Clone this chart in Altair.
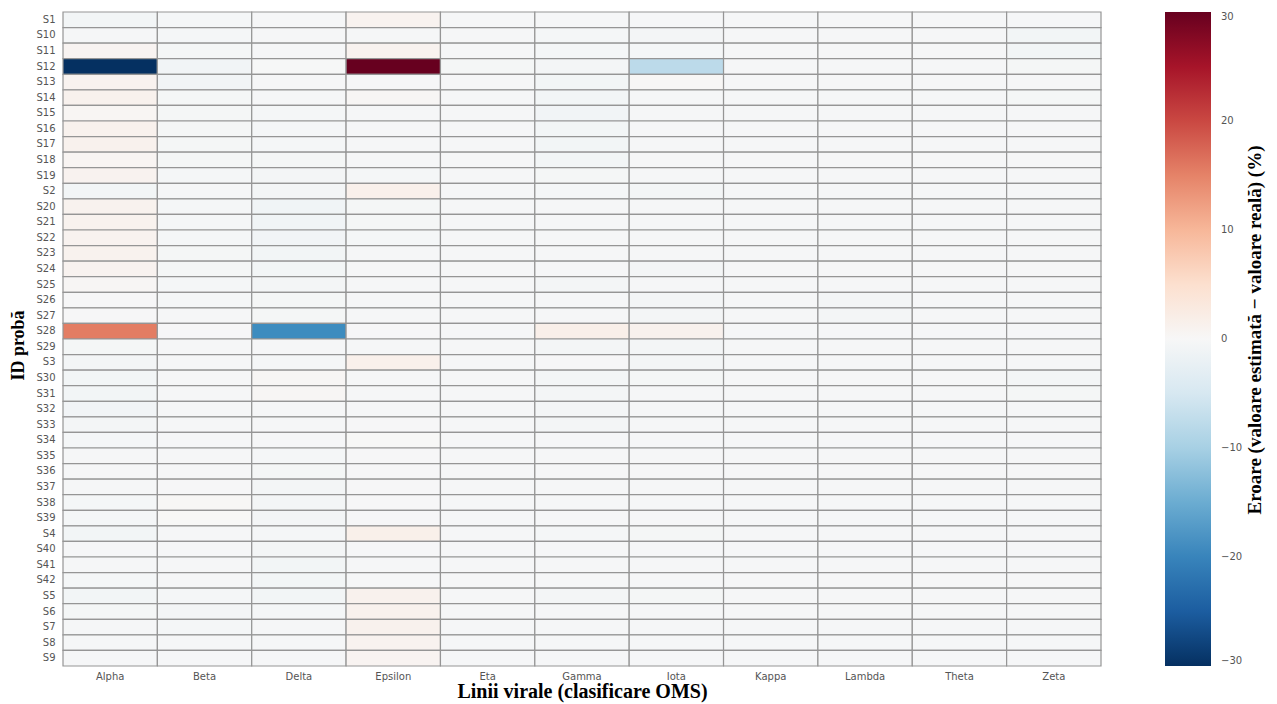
import altair as alt
import pandas as pd

# Sample IDs (string-sorted) and viral lineages
samples = ["S1", "S10", "S11", "S12", "S13", "S14", "S15", "S16", "S17", "S18", "S19",
           "S2", "S20", "S21", "S22", "S23", "S24", "S25", "S26", "S27", "S28", "S29",
           "S3", "S30", "S31", "S32", "S33", "S34", "S35", "S36", "S37", "S38", "S39",
           "S4", "S40", "S41", "S42", "S5", "S6", "S7", "S8", "S9"]
lineages = ["Alpha", "Beta", "Delta", "Epsilon", "Eta", "Gamma", "Iota",
            "Kappa", "Lambda", "Theta", "Zeta"]

# Error (estimated - true) in percentage points, one list per lineage, in sample order
err_alpha = [-0.8, -0.3, 0.8, -30.0, 1.0, 1.2, 0.5, 1.2, 1.2, 0.6, 1.0,
             -0.8, 1.1, 1.1, 1.0, 1.1, 1.0, 0.4, -0.2, -0.2, 15.5, -0.5,
             -0.6, -0.8, -0.8, -0.9, -0.6, -0.4, -0.3, -0.3, -0.3, -0.4, -0.4,
             -0.8, -0.3, -0.3, -0.4, -0.8, -0.5, -0.3, -0.3, -0.3]
err_beta = [-0.4, -0.4, -0.5, -0.9, -0.9, -0.5, -0.5, -0.5, -0.5, -0.5, -0.4,
            -0.3, -0.4, -0.4, -0.4, -0.5, -0.5, -0.4, -0.4, -0.3, -0.2, -0.3,
            -0.3, -0.3, -0.3, -0.3, -0.3, -0.3, -0.3, -0.3, -0.2, 0.2, 0.1,
            -0.3, -0.3, -0.3, -0.3, -0.4, -0.6, -0.4, -0.3, -0.3]
err_delta = [-0.3, -0.3, -0.3, -0.1, -0.3, -0.3, -0.4, -0.4, -0.4, -0.5, -0.7,
             -0.6, -1.1, -1.1, -1.0, -0.8, -0.8, -0.6, -0.5, -0.5, -19.0, -0.3,
             -0.4, 0.4, 0.4, -0.3, -0.3, -0.3, -0.4, -0.5, -0.6, -0.7, -0.7,
             -0.4, -0.6, -0.8, -0.8, -0.8, -0.4, -0.3, -0.3, -0.3]
err_epsilon = [1.0, -0.3, 1.0, 30.0, -0.3, 0.4, -0.3, -0.3, -0.3, -0.3, -0.4,
               1.5, -0.5, -0.5, -0.4, -0.3, -0.3, -0.3, -0.3, -0.3, -0.2, -0.3,
               1.5, -0.3, -0.3, -0.3, -0.2, 0.1, -0.2, -0.2, -0.2, -0.2, -0.2,
               1.6, -0.3, -0.3, -0.3, 1.3, 1.2, 1.2, 1.0, 0.8]
err_eta = [-0.3, -0.3, -0.3, -0.5, -0.3, -0.3, -0.3, -0.3, -0.3, -0.3, -0.3,
           -0.3, -0.3, -0.3, -0.3, -0.3, -0.3, -0.3, -0.3, -0.3, -0.3, -0.3,
           -0.3, -0.3, -0.3, -0.3, -0.3, -0.3, -0.3, -0.3, -0.3, -0.3, -0.3,
           -0.3, -0.3, -0.3, -0.3, -0.3, -0.3, -0.3, -0.3, -0.3]
err_gamma = [-0.3, -0.4, -0.4, -0.6, -0.8, -0.8, -0.9, -0.8, -0.8, -0.8, -0.5,
             -0.4, -0.3, -0.3, -0.3, -0.3, -0.3, -0.6, -0.3, -0.3, 1.8, -0.7,
             -0.2, -0.6, -0.7, -0.7, -0.7, -0.3, -0.3, -0.3, -0.3, -0.3, -0.3,
             -0.4, -0.3, -0.3, -0.3, -0.6, -0.3, -0.3, -0.3, -0.3]
err_iota = [-0.3, -0.7, -0.4, -8.0, 0.3, -0.3, -0.3, -0.3, -0.3, -0.3, -0.3,
            -0.6, -0.3, -0.3, -0.3, -0.3, -0.7, -0.3, -0.7, -0.7, 1.3, -0.7,
            -0.6, -0.5, -0.3, -0.3, -0.3, -0.3, -0.3, -0.3, -0.3, -0.3, -0.3,
            -0.5, -0.3, -0.3, -0.3, -0.5, -0.3, -0.3, -0.3, -0.3]
err_kappa = [-0.3, -0.3, -0.3, -0.3, -0.3, -0.3, -0.3, -0.3, -0.3, -0.3, -0.3,
             -0.3, -0.3, -0.3, -0.3, -0.3, -0.3, -0.3, -0.3, -0.3, -0.3, -0.3,
             -0.3, -0.3, -0.3, -0.3, -0.3, -0.3, -0.3, -0.3, -0.3, -0.3, -0.3,
             -0.3, -0.3, -0.3, -0.3, -0.3, -0.3, -0.3, -0.3, -0.3]
err_lambda = [-0.3, -0.3, -0.3, -0.3, -0.3, -0.3, -0.3, -0.3, -0.3, -0.3, -0.3,
              -0.3, -0.3, -0.3, -0.3, -0.3, -0.3, -0.3, -0.7, -0.6, -0.3, -0.3,
              -0.3, -0.3, -0.3, -0.3, -0.3, -0.3, -0.3, -0.3, -0.3, -0.3, -0.3,
              -0.3, -0.3, -0.3, -0.3, -0.3, -0.3, -0.3, -0.3, -0.3]
err_theta = [-0.3, -0.3, -0.3, -0.3, -0.3, -0.3, -0.3, -0.3, -0.3, -0.3, -0.3,
             -0.3, -0.3, -0.3, -0.3, -0.3, -0.3, -0.3, -0.3, -0.3, -0.3, -0.3,
             -0.3, -0.3, -0.3, -0.3, -0.3, -0.3, -0.3, -0.3, -0.3, -0.3, -0.3,
             -0.3, -0.3, -0.3, -0.3, -0.3, -0.3, -0.3, -0.3, -0.3]
err_zeta = [-0.3, -0.8, -0.8, -0.5, -0.3, -0.5, -0.3, -0.3, -0.3, -0.3, -0.3,
            -0.3, -0.3, -0.3, -0.3, -0.3, -0.3, -0.3, -0.3, -0.3, -0.3, -0.3,
            -0.3, -0.6, -0.5, -0.3, -0.3, -0.3, -0.3, -0.3, -0.3, -0.3, -0.3,
            -0.3, -0.3, -0.3, -0.3, -0.3, -0.3, -0.3, -0.3, -0.3]

columns = [err_alpha, err_beta, err_delta, err_epsilon, err_eta, err_gamma,
           err_iota, err_kappa, err_lambda, err_theta, err_zeta]

# Diverging red-blue ramp (blue = underestimate, red = overestimate)
ramp_stops = [-30, -24, -18, -12, -6, 0, 6, 12, 18, 24, 30]
ramp_colors = ["#053061", "#2166ac", "#4393c3", "#92c5de", "#d1e5f0", "#f7f7f7",
               "#fddbc7", "#f4a582", "#d6604d", "#b2182b", "#67001f"]

rows = []
for lin, vals in zip(lineages, columns):
    for s, v in zip(samples, vals):
        rows.append({"Linie": lin, "Proba": s, "Eroare": v})
df = pd.DataFrame(rows)

cbar_title = "Eroare (valoare estimată − valoare reală) (%)"

W, H = 1038, 654

heat = alt.Chart(df).mark_rect(stroke="#959595", strokeWidth=1.2).encode(
    x=alt.X("Linie:N", sort=lineages,
            scale=alt.Scale(paddingInner=0, paddingOuter=0),
            axis=alt.Axis(title="Linii virale (clasificare OMS)", labelAngle=0,
                          labelFont="DejaVu Sans", labelFontSize=10, labelColor="#555",
                          labelPadding=5, ticks=False, domain=False,
                          titleFont="Liberation Serif", titleFontSize=20,
                          titleFontWeight="bold", titleColor="#000",
                          titleY=25, titleBaseline="middle")),
    y=alt.Y("Proba:N", sort=samples,
            scale=alt.Scale(paddingInner=0, paddingOuter=0),
            axis=alt.Axis(title="ID probă", labelFont="DejaVu Sans", labelFontSize=10,
                          labelColor="#555", labelPadding=8, ticks=False, domain=False,
                          titleFont="Liberation Serif", titleFontSize=18,
                          titleFontWeight="bold", titleColor="#000",
                          titleAngle=270, titleX=-45, titleY=H / 2 + 6,
                          titleAlign="center", titleBaseline="middle")),
    color=alt.Color("Eroare:Q",
                    scale=alt.Scale(domain=ramp_stops, range=ramp_colors,
                                    interpolate="rgb"),
                    legend=alt.Legend(title=None, orient="none", legendX=W + 64, legendY=0,
                                      direction="vertical", gradientLength=H,
                                      gradientThickness=46, gradientStrokeWidth=0,
                                      values=[-30, -20, -10, 0, 10, 20, 30],
                                      labelFont="DejaVu Sans", labelFontSize=10,
                                      labelColor="#555", labelOffset=10,
                                      labelBaseline="middle", labelOverlap=False)),
)

cbar_label = alt.Chart(pd.DataFrame({"t": [cbar_title]})).mark_text(
    angle=270, font="Liberation Serif", fontSize=19, fontWeight="bold",
    color="#000", align="center", baseline="middle",
).encode(x=alt.value(W + 154), y=alt.value(H / 2 - 9), text="t:N")

chart = alt.layer(heat, cbar_label).properties(
    width=W, height=H,
    autosize=alt.AutoSizeParams(type="none"),
    padding={"left": 63, "top": 12, "right": 1277 - 63 - W, "bottom": 704 - 12 - H},
).configure_view(stroke=None)

chart.save("out.html", embed_options={"renderer": "svg", "actions": False})
